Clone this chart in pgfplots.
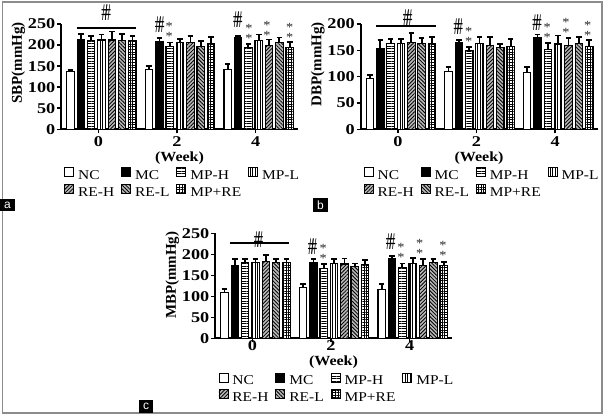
\documentclass[border=0pt]{standalone}
\usepackage{fontspec}
\setmainfont{Liberation Serif}[FakeStretch=1.15]
\newfontfamily\tickfont{Liberation Serif}[FakeStretch=1.22]
\newfontfamily\yfont{Liberation Serif}
\newfontfamily\labsans{Liberation Sans}
\usepackage{graphicx}
\usepackage{pgfplots}
\pgfplotsset{compat=1.18}
\usetikzlibrary{patterns,patterns.meta}

\newcommand{\hh}{{\fontsize{24}{24}\selectfont\scalebox{0.5}[1]{\#\kern-0.36em\#}}}
\newcommand{\sk}{{\fontsize{12.5}{12.5}\selectfont\textcolor{black!85}{*}}}
\tikzset{an/.style={inner sep=0pt}, as/.style={inner sep=0pt, yshift=-2bp}}

\pgfplotsset{
  errb/.style={/pgfplots/error bars/y dir=plus, /pgfplots/error bars/y explicit,
    /pgfplots/error bars/error mark=-,
    /pgfplots/error bars/error bar style={line width=1.8bp, black, solid},
    /pgfplots/error bars/error mark options={rotate=90, line width=1.8bp, black, mark size=2.8bp}},
  bb/.style={ybar, bar width=0.19, bar shift=0, draw=black, line width=1.1bp, errb},
  sNC/.style={bb, fill=white},
  sMC/.style={bb, fill=black},
  sMPH/.style={bb, fill=white, postaction={pattern={Lines[angle=0,distance=2.5bp,line width=0.9bp]}}},
  sMPL/.style={bb, fill=white, postaction={pattern={Lines[angle=90,distance=2.5bp,line width=0.9bp]}}},
  sREH/.style={bb, fill=black!28, postaction={pattern={Lines[angle=45,distance=2.6bp,line width=0.8bp]}}},
  sREL/.style={bb, fill=black!28, postaction={pattern={Lines[angle=-45,distance=2.6bp,line width=0.8bp]}}},
  sMPRE/.style={bb, fill=white, postaction={pattern={Hatch[angle=0,distance=2.6bp,line width=0.8bp]}}},
  panel/.style={
    scale only axis, width=237bp, height=105.3bp,
    anchor=south west, clip=false,
    axis x line=bottom, axis y line=left,
    axis line style={line width=2bp, black, -},
    xmin=-0.95, xmax=5.08, ymin=0,
    xtick={0,2,4},
    tick align=outside, major tick length=4bp,
    tick style={black, line width=1.5bp},
    /pgf/number format/assume math mode=true,
    tick label style={font=\tickfont\bfseries\fontsize{15}{15}\selectfont},
    yticklabel style={inner sep=1.5bp},
    xlabel={(Week)},
    xlabel style={font=\bfseries\fontsize{14}{14}\selectfont, at={(axis description cs:0.5,-0.27)}, anchor=center},
    ylabel style={font=\yfont\bfseries\fontsize{15}{15}\selectfont, at={(axis description cs:-0.18,1.05)}, anchor=east},
    legend columns=4, legend cell align=left,
    legend style={draw=none, fill=none, font=\fontsize{13.5}{13.5}\selectfont,
      at={(axis description cs:0.013,-0.36)}, anchor=north west, inner sep=0pt,
      column sep=2bp, row sep=1bp,
      /tikz/every even column/.append style={column sep=5bp}},
    legend image code/.code={\draw[##1, line width=0.9bp] (0bp,-1bp) rectangle (9bp,8bp);},
  },
}

\begin{document}
\begin{tikzpicture}
\useasboundingbox (0,0) rectangle (606bp,-416bp);
\draw[black!45, line width=1.6bp] (2.5bp,-1.8bp) rectangle (602bp,-413bp);

% ---------------- panel a : SBP ----------------
\begin{axis}[panel, at={(61bp,-129.3bp)}, ymax=250, ytick={0,50,...,250}, ylabel={SBP(mmHg)}]
\addplot[sNC]   coordinates {(-0.709,137) +- (0,4)  (1.291,142) +- (0,9)  (3.291,141) +- (0,14)};
\addlegendentry{NC}
\addplot[sMC]   coordinates {(-0.446,212) +- (0,15) (1.554,208) +- (0,8)  (3.554,218) +- (0,4)};
\addlegendentry{MC}
\addplot[sMPH]  coordinates {(-0.183,211) +- (0,10) (1.817,197) +- (0,9)  (3.817,194) +- (0,8)};
\addlegendentry{MP-H}
\addplot[sMPL]  coordinates {(0.080,212) +- (0,13) (2.080,206) +- (0,9)  (4.080,210) +- (0,15)};
\addlegendentry{MP-L}
\addplot[sREH]  coordinates {(0.343,212) +- (0,20) (2.343,206) +- (0,16) (4.343,200) +- (0,13)};
\addlegendentry{RE-H}
\addplot[sREL]  coordinates {(0.606,211) +- (0,15) (2.606,196) +- (0,13) (4.606,207) +- (0,11)};
\addlegendentry{RE-L}
\addplot[sMPRE] coordinates {(0.869,211) +- (0,10) (2.869,204) +- (0,16) (4.869,195) +- (0,12)};
\addlegendentry{MP+RE}
\draw[line width=2bp] (axis cs:-0.55,240) -- (axis cs:0.97,240);
\node[an] at (axis cs:0.2,276) {\hh};
\node[an] at (axis cs:1.56,247.6) {\hh};
\node[as] at (axis cs:1.80,248) {\sk};
\node[as] at (axis cs:1.80,225) {\sk};
\node[an] at (axis cs:3.55,259.5) {\hh};
\node[as] at (axis cs:3.83,245) {\sk};
\node[as] at (axis cs:3.83,220) {\sk};
\node[as] at (axis cs:4.29,252) {\sk};
\node[as] at (axis cs:4.29,228) {\sk};
\node[as] at (axis cs:4.87,247) {\sk};
\node[as] at (axis cs:4.87,223) {\sk};
\end{axis}

% ---------------- panel b : DBP ----------------
\begin{axis}[panel, at={(360.5bp,-129.3bp)}, ymax=200, ytick={0,50,...,200}, ylabel={DBP(mmHg)}]
\addplot[sNC]   coordinates {(-0.709,96) +- (0,7)   (1.291,110) +- (0,9)  (3.291,108) +- (0,11)};
\addlegendentry{NC}
\addplot[sMC]   coordinates {(-0.446,153) +- (0,17) (1.554,164) +- (0,6)  (3.554,175) +- (0,5)};
\addlegendentry{MC}
\addplot[sMPH]  coordinates {(-0.183,163) +- (0,8)  (1.817,149) +- (0,7)  (3.817,152) +- (0,12)};
\addlegendentry{MP-H}
\addplot[sMPL]  coordinates {(0.080,163) +- (0,8)  (2.080,163) +- (0,13) (4.080,162) +- (0,16)};
\addlegendentry{MP-L}
\addplot[sREH]  coordinates {(0.343,165) +- (0,18) (2.343,159) +- (0,17) (4.343,159) +- (0,15)};
\addlegendentry{RE-H}
\addplot[sREL]  coordinates {(0.606,163) +- (0,10) (2.606,155) +- (0,7)  (4.606,163) +- (0,13)};
\addlegendentry{RE-L}
\addplot[sMPRE] coordinates {(0.869,163) +- (0,12) (2.869,158) +- (0,13) (4.869,158) +- (0,11)};
\addlegendentry{MP+RE}
\draw[line width=2bp] (axis cs:-0.55,196) -- (axis cs:0.97,196);
\node[an] at (axis cs:0.25,212) {\hh};
\node[an] at (axis cs:1.54,195) {\hh};
\node[as] at (axis cs:1.80,190) {\sk};
\node[as] at (axis cs:1.80,171) {\sk};
\node[an] at (axis cs:3.54,203) {\hh};
\node[as] at (axis cs:3.80,198) {\sk};
\node[as] at (axis cs:3.80,179) {\sk};
\node[as] at (axis cs:4.28,207) {\sk};
\node[as] at (axis cs:4.28,188) {\sk};
\node[as] at (axis cs:4.83,201) {\sk};
\node[as] at (axis cs:4.83,182) {\sk};
\end{axis}

% ---------------- panel c : MBP ----------------
\begin{axis}[panel, at={(215bp,-338.3bp)}, height=105bp, ymax=250, ytick={0,50,...,250}, ylabel={MBP(mmHg)},
  xticklabel style={yshift=5bp},
  xlabel style={at={(axis description cs:0.5,-0.229)}},
  legend style={at={(axis description cs:0.014,-0.325)}}]
\addplot[sNC]   coordinates {(-0.709,110) +- (0,8)  (1.291,120) +- (0,10) (3.291,117) +- (0,12)};
\addlegendentry{NC}
\addplot[sMC]   coordinates {(-0.446,174) +- (0,14) (1.554,180) +- (0,8)  (3.554,190) +- (0,6)};
\addlegendentry{MC}
\addplot[sMPH]  coordinates {(-0.183,180) +- (0,8)  (1.817,167) +- (0,9)  (3.817,168) +- (0,10)};
\addlegendentry{MP-H}
\addplot[sMPL]  coordinates {(0.080,180) +- (0,9)  (2.080,178) +- (0,11) (4.080,178) +- (0,13)};
\addlegendentry{MP-L}
\addplot[sREH]  coordinates {(0.343,182) +- (0,16) (2.343,177) +- (0,13) (4.343,173) +- (0,15)};
\addlegendentry{RE-H}
\addplot[sREL]  coordinates {(0.606,180) +- (0,9)  (2.606,170) +- (0,8)  (4.606,180) +- (0,8)};
\addlegendentry{RE-L}
\addplot[sMPRE] coordinates {(0.869,180) +- (0,9)  (2.869,175) +- (0,12) (4.869,173) +- (0,9)};
\addlegendentry{MP+RE}
\draw[line width=2bp] (axis cs:-0.58,227.6) -- (axis cs:0.92,227.6);
\node[an] at (axis cs:0.16,236) {\hh};
\node[an] at (axis cs:1.53,218) {\hh};
\node[as] at (axis cs:1.80,218) {\sk};
\node[as] at (axis cs:1.80,194) {\sk};
\node[an] at (axis cs:3.52,230) {\hh};
\node[as] at (axis cs:3.78,222) {\sk};
\node[as] at (axis cs:3.78,198) {\sk};
\node[as] at (axis cs:4.26,230) {\sk};
\node[as] at (axis cs:4.26,206) {\sk};
\node[as] at (axis cs:4.85,226) {\sk};
\node[as] at (axis cs:4.85,202) {\sk};
\end{axis}

% panel letters
\node[fill=black, text=white, font=\labsans\fontsize{12}{12}\selectfont, inner sep=0pt, minimum width=15bp, minimum height=12bp] at (7.5bp,-205bp) {a};
\node[fill=black, text=white, font=\labsans\fontsize{12}{12}\selectfont, inner sep=0pt, minimum width=15bp, minimum height=14bp] at (320.5bp,-205bp) {b};
\node[fill=black, text=white, font=\labsans\fontsize{12}{12}\selectfont, inner sep=0pt, minimum width=14bp, minimum height=13bp] at (146bp,-406.5bp) {c};
\end{tikzpicture}
\end{document}
